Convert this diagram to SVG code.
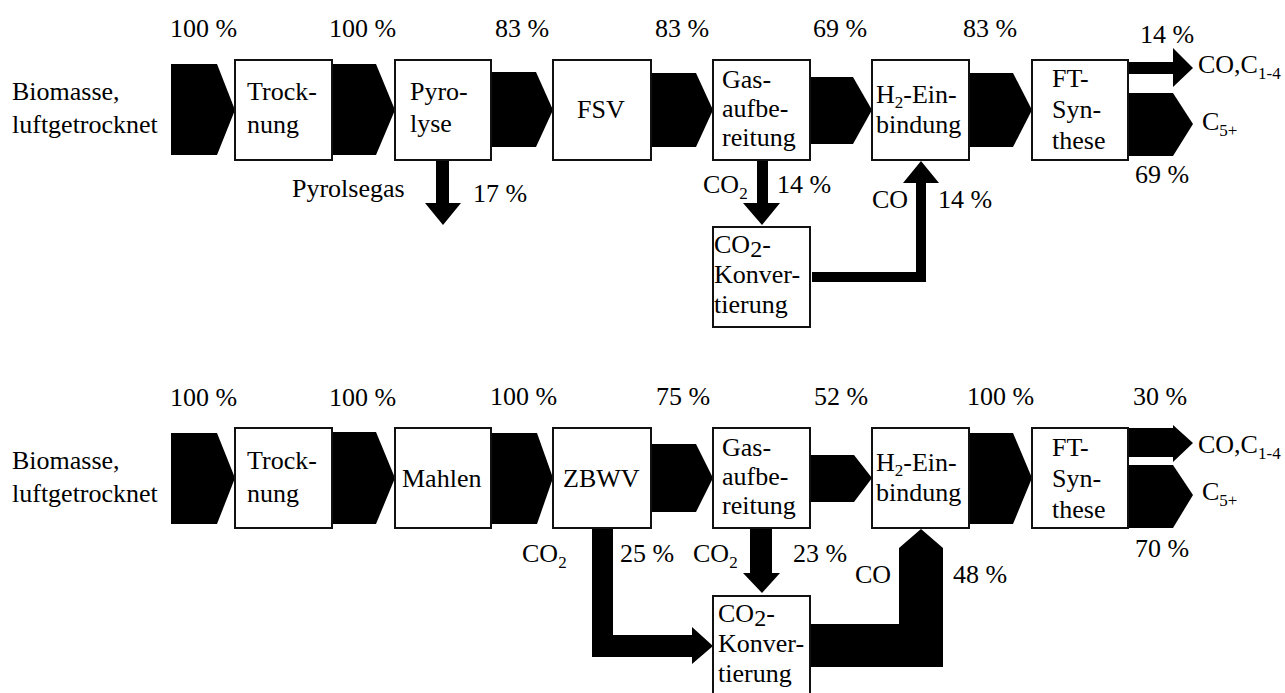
<svg xmlns="http://www.w3.org/2000/svg" width="1285" height="693" viewBox="0 0 1285 693">
<style>
.box{fill:#fff;stroke:#111;stroke-width:2}
.flow{fill:#000;stroke:none}
.sub{font-size:17px}
.t{font-family:"Liberation Serif","Tinos","Noto Serif","DejaVu Serif","FreeSerif","Nimbus Roman","Times New Roman",Times,serif;font-size:26px;fill:#000}
</style>
<rect width="1285" height="693" fill="#fff"/>
<g class="t">
<g id="connectors">
  <polygon class="flow" points="171,64 217,64 235,110 217,155 171,155"/>
  <polygon class="flow" points="330,64 376,64 395,110 376,155 330,155"/>
  <polygon class="flow" points="490,72 536,72 553,110 536,147 490,147"/>
  <polygon class="flow" points="650,73 696,73 713,110 696,147 650,147"/>
  <polygon class="flow" points="809,77 853,77 872,110 853,144 809,144"/>
  <polygon class="flow" points="968,73 1013,73 1032,110 1013,147 968,147"/>
  <polygon class="flow" points="1128,62 1173,62 1173,48 1193,68 1173,87 1173,74 1128,74"/>
  <polygon class="flow" points="1128,93 1173,93 1193,124 1173,156 1128,156"/>
  <polygon class="flow" points="436,160 449,160 449,203 461,203 443,225 425,203 436,203"/>
  <polygon class="flow" points="757,160 768,160 768,203 780,203 762,225 743,203 757,203"/>
  <polygon class="flow" points="812,272 916,272 916,183 903,183 921,161 939,183 926,183 926,282 812,282"/>
  <polygon class="flow" points="171,433 217,433 235,478 217,524 171,524"/>
  <polygon class="flow" points="330,432 376,432 395,478 376,524 330,524"/>
  <polygon class="flow" points="490,433 537,433 553,478 537,524 490,524"/>
  <polygon class="flow" points="650,444 696,444 713,478 696,512 650,512"/>
  <polygon class="flow" points="809,455 854,455 872,478 854,502 809,502"/>
  <polygon class="flow" points="968,433 1013,433 1032,478 1013,524 968,524"/>
  <polygon class="flow" points="1128,428 1173,428 1173,425 1193,443 1173,462 1173,457 1128,457"/>
  <polygon class="flow" points="1128,465 1173,465 1193,495 1173,528 1128,528"/>
  <polygon class="flow" points="592,528 613,528 613,635 692,635 692,627 713,646 692,664 692,657 592,657"/>
  <polygon class="flow" points="750,528 772,528 772,573 780,573 762,593 743,573 750,573"/>
  <polygon class="flow" points="810,624 899,624 899,548 921,529 943,548 943,667 810,667"/>
  <text x="170" y="37">100 %</text>
  <text x="329" y="37">100 %</text>
  <text x="495" y="37">83 %</text>
  <text x="655" y="37">83 %</text>
  <text x="813" y="37">69 %</text>
  <text x="963" y="37">83 %</text>
  <text x="1140" y="43">14 %</text>
  <text x="1198" y="73">CO,C<tspan class="sub" dy="6">1-4</tspan></text>
  <text x="1202" y="130">C<tspan class="sub" dy="6">5+</tspan></text>
  <text x="1135" y="183">69 %</text>
  <text x="292" y="197">Pyrolsegas</text>
  <text x="473" y="202">17 %</text>
  <text x="703" y="193">CO<tspan class="sub" dy="6">2</tspan></text>
  <text x="777" y="193">14 %</text>
  <text x="872" y="208">CO</text>
  <text x="938" y="208">14 %</text>
  <text x="170" y="406">100 %</text>
  <text x="329" y="406">100 %</text>
  <text x="490" y="405">100 %</text>
  <text x="656" y="405">75 %</text>
  <text x="814" y="405">52 %</text>
  <text x="967" y="405">100 %</text>
  <text x="1133" y="405">30 %</text>
  <text x="1198" y="453">CO,C<tspan class="sub" dy="6">1-4</tspan></text>
  <text x="1202" y="500">C<tspan class="sub" dy="6">5+</tspan></text>
  <text x="1135" y="557">70 %</text>
  <text x="522" y="562">CO<tspan class="sub" dy="6">2</tspan></text>
  <text x="620" y="562">25 %</text>
  <text x="693" y="562">CO<tspan class="sub" dy="6">2</tspan></text>
  <text x="793" y="562">23 %</text>
  <text x="855" y="583">CO</text>
  <text x="953" y="583">48 %</text>
</g>
<g id="input-top"><text x="12" y="100">Biomasse,</text><text x="12" y="133">luftgetrocknet</text></g>
<g id="trocknung-top"><rect class="box" x="235" y="60" width="97" height="100"/><text x="247" y="100">Trock-</text><text x="247" y="133">nung</text></g>
<g id="pyrolyse-top"><rect class="box" x="395" y="60" width="96" height="100"/><text x="410" y="100">Pyro-</text><text x="410" y="132">lyse</text></g>
<g id="fsv-top"><rect class="box" x="553" y="60" width="98" height="100"/><text x="577" y="118">FSV</text></g>
<g id="gas-top"><rect class="box" x="713" y="60" width="97" height="100"/><text x="722" y="88">Gas-</text><text x="722" y="117">aufbe-</text><text x="722" y="146">reitung</text></g>
<g id="h2-top"><rect class="box" x="872" y="60" width="97" height="100"/><text x="876" y="103">H<tspan class="sub" dy="5">2</tspan><tspan dy="-5">-Ein-</tspan></text><text x="876" y="133">bindung</text></g>
<g id="ft-top"><rect class="box" x="1032" y="60" width="96" height="100"/><text x="1052" y="87">FT-</text><text x="1052" y="118">Syn-</text><text x="1052" y="149">these</text></g>
<g id="co2konv-top"><rect class="box" x="713" y="227" width="97" height="100"/><text x="714" y="253">CO<tspan dy="4" font-size="24">2</tspan><tspan dy="-4">-</tspan></text><text x="714" y="283">Konver-</text><text x="714" y="313">tierung</text></g>
<g id="input-bottom"><text x="12" y="469">Biomasse,</text><text x="12" y="502">luftgetrocknet</text></g>
<g id="trocknung-bottom"><rect class="box" x="235" y="428" width="97" height="100"/><text x="247" y="469">Trock-</text><text x="247" y="502">nung</text></g>
<g id="mahlen-bottom"><rect class="box" x="395" y="428" width="96" height="100"/><text x="402" y="487">Mahlen</text></g>
<g id="zbwv-bottom"><rect class="box" x="553" y="428" width="98" height="100"/><text x="563" y="487">ZBWV</text></g>
<g id="gas-bottom"><rect class="box" x="713" y="428" width="97" height="100"/><text x="722" y="456">Gas-</text><text x="722" y="485">aufbe-</text><text x="722" y="514">reitung</text></g>
<g id="h2-bottom"><rect class="box" x="872" y="428" width="97" height="100"/><text x="876" y="471">H<tspan class="sub" dy="5">2</tspan><tspan dy="-5">-Ein-</tspan></text><text x="876" y="501">bindung</text></g>
<g id="ft-bottom"><rect class="box" x="1032" y="428" width="96" height="100"/><text x="1052" y="456">FT-</text><text x="1052" y="487">Syn-</text><text x="1052" y="518">these</text></g>
<g id="co2konv-bottom"><rect class="box" x="713" y="596" width="97" height="100"/><text x="718" y="622">CO<tspan dy="4" font-size="24">2</tspan><tspan dy="-4">-</tspan></text><text x="718" y="652">Konver-</text><text x="718" y="682">tierung</text></g>
</g>
</svg>
